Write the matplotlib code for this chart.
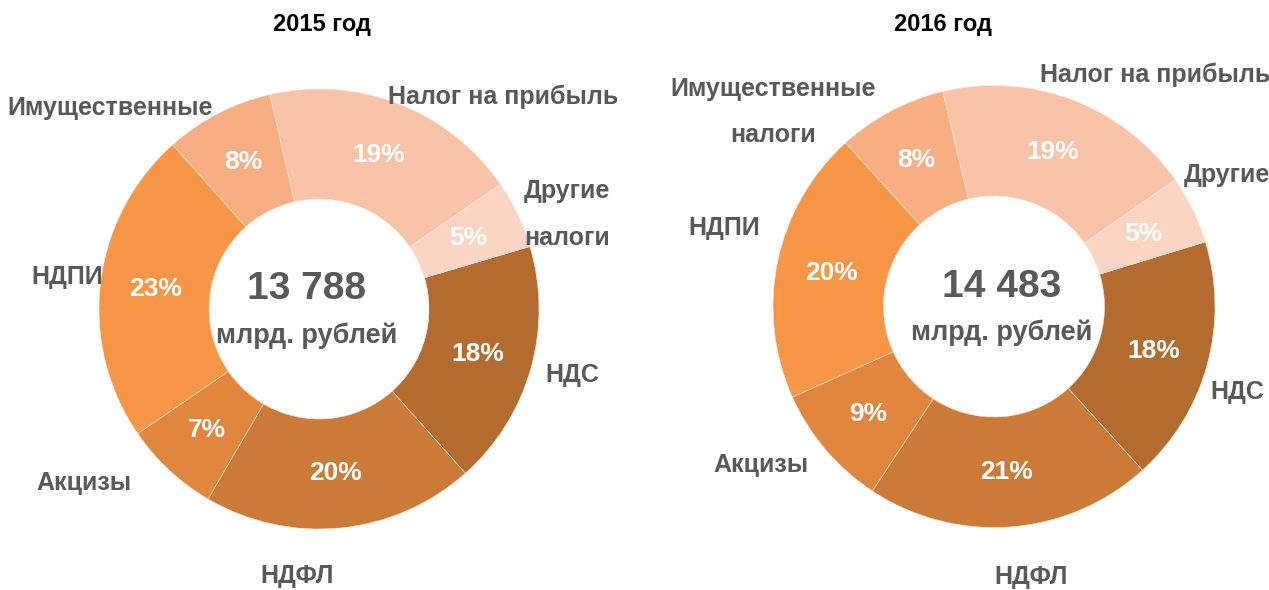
import matplotlib.pyplot as plt
from matplotlib import font_manager

# Структура налоговых поступлений
categories = ['НДС', 'НДФЛ', 'Акцизы', 'НДПИ', 'Имущественные', 'Налог на прибыль', 'Другие']
shares_2015 = [18, 20, 7, 23, 8, 19, 5]
shares_2016 = [18, 21, 9, 20, 8, 19, 5]
totals = ['13 788', '14 483']
years = ['2015 год', '2016 год']

labels_2015 = ['НДС', 'НДФЛ', 'Акцизы', 'НДПИ', 'Имущественные', 'Налог на прибыль', 'Другие\nналоги']
labels_2016 = ['НДС', 'НДФЛ', 'Акцизы', 'НДПИ', 'Имущественные\nналоги', 'Налог на прибыль', 'Другие']

colors = ['#B36B30', '#CC7A38', '#E0863F', '#F69646', '#F7AE83', '#F9C3A7', '#FAD5C3']

names = {f.name for f in font_manager.fontManager.ttflist}
fam = 'Liberation Sans Narrow' if 'Liberation Sans Narrow' in names else 'Liberation Sans'
plt.rcParams['font.family'] = [fam, 'DejaVu Sans']

W, H = 1269, 590
fig = plt.figure(figsize=(W / 100, H / 100), dpi=100)

# центр кольца (px), радиус, угол начала, позиции подписей, сдвиг центрального текста
layout = [
    dict(cx=319, cy=309, r=220, start=16.5, dx=-0.055, title_x=322,
         pos=[(1.15, -0.30), (-0.10, -1.214), (-1.068, -0.791), (-1.145, 0.145),
              (-0.95, 0.914), (0.836, 0.964), (1.127, 0.43)]),
    dict(cx=994, cy=306.5, r=221, start=17, dx=0.035, title_x=943,
         pos=[(1.10, -0.387), (0.167, -1.224), (-1.054, -0.717), (-1.222, 0.355),
              (-1.0, 0.88), (0.728, 1.047), (1.054, 0.595)]),
]

for shares, labels, total, year, lay in zip([shares_2015, shares_2016], [labels_2015, labels_2016],
                                            totals, years, layout):
    r = lay['r']
    ax = fig.add_axes([(lay['cx'] - r) / W, (H - lay['cy'] - r) / H, 2 * r / W, 2 * r / H])
    wedges, _, autotexts = ax.pie(shares, colors=colors, startangle=lay['start'], counterclock=False,
                                  radius=1, autopct=lambda p: f'{p:.0f}%', pctdistance=0.75,
                                  wedgeprops=dict(width=0.5, edgecolor='#f5e6dc', linewidth=0.4),
                                  textprops=dict(color='white', fontsize=19, fontweight='bold'))
    ax.set_xlim(-1, 1)
    ax.set_ylim(-1, 1)
    ax.axis('off')

    for lbl, (x, y) in zip(labels, lay['pos']):
        ax.text(x, y, lbl, ha='center', va='center', fontsize=18, fontweight='bold',
                color='#595959', linespacing=2.2, clip_on=False)

    ax.text(lay['dx'], 0.09, total, ha='center', va='center', fontsize=28,
            fontweight='bold', color='#595959')
    ax.text(lay['dx'], -0.12, 'млрд. рублей', ha='center', va='center', fontsize=19.5,
            fontweight='bold', color='#595959')

    fig.text(lay['title_x'] / W, 1 - 25 / H, year, ha='center', va='center',
             fontsize=17, fontweight='bold', color='black')

fig.savefig('out.png', dpi=100)
